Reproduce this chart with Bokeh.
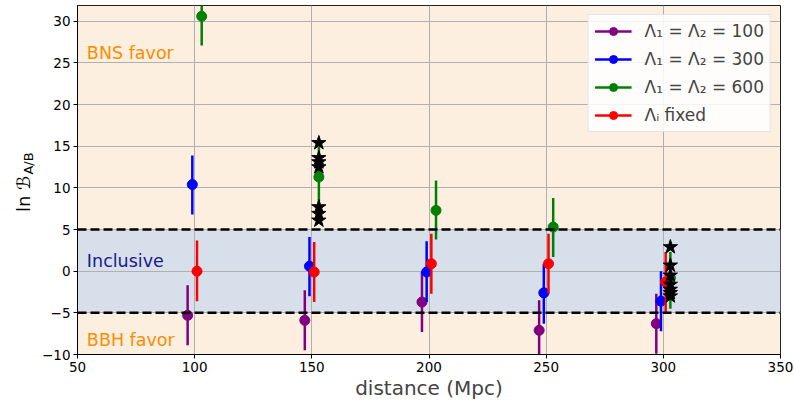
from bokeh.plotting import figure
from bokeh.layouts import row
from bokeh.models import (Label, Legend, LegendItem, BoxAnnotation, Span,
                          FixedTicker)
from bokeh.embed import file_html
from bokeh.resources import INLINE

# ---------------- data ----------------
x_ticks = [50, 100, 150, 200, 250, 300, 350]
y_ticks = [-10, -5, 0, 5, 10, 15, 20, 25, 30]

purple_x = [97, 147, 197, 247, 297]
purple_y = [-5.3, -5.9, -3.7, -7.1, -6.3]
purple_lo = [-8.9, -9.5, -7.3, -10.7, -9.9]
purple_hi = [-1.7, -2.3, -0.1, -3.5, -2.7]

blue_x = [99, 149, 199, 249, 299]
blue_y = [10.4, 0.6, -0.1, -2.6, -3.6]
blue_lo = [6.8, -3.0, -3.7, -6.3, -7.2]
blue_hi = [13.9, 4.1, 3.6, 0.9, 0.0]

green_x = [103, 153, 203, 253, 303]
green_y = [30.6, 11.3, 7.3, 5.3, -0.8]
green_lo = [27.1, 7.7, 3.8, 1.7, -4.5]
green_hi = [34.1, 14.9, 10.9, 8.8, 2.3]

red_x = [101, 151, 201, 251, 301]
red_y = [0.0, -0.1, 0.9, 0.9, -1.3]
red_lo = [-3.6, -3.7, -2.7, -2.7, -4.9]
red_hi = [3.7, 3.5, 4.5, 4.5, 2.3]

stars_x = [153, 153, 153, 153, 153, 153, 153,
           303, 303, 303, 303, 303, 303, 303]
stars_y = [15.4, 13.6, 13.1, 12.5, 7.7, 6.9, 6.1,
           2.9, 0.7, -0.5, -1.6, -2.2, -2.6, -3.0]

labels = ["Λ₁ = Λ₂ = 100", "Λ₁ = Λ₂ = 300", "Λ₁ = Λ₂ = 600", "Λᵢ fixed"]
colors = ["purple", "blue", "green", "red"]

band_lo, band_hi = -5, 5

# ---------------- figure ----------------
FONT = "DejaVu Sans"
LABEL_W = 36
p = figure(width=794 - LABEL_W, height=404, x_range=(50, 350), y_range=(-10, 31.9),
           output_backend="svg", toolbar_location=None,
           min_border_left=77 - LABEL_W, min_border_right=14, min_border_top=5,
           min_border_bottom=50)

p.background_fill_color = "#fdefe0"
p.border_fill_color = "white"
p.outline_line_color = "#222222"
p.outline_line_width = 1

p.add_layout(BoxAnnotation(bottom=band_lo, top=band_hi, fill_color="#d6dfea",
                           fill_alpha=1.0, line_alpha=0, level="image"))

p.grid.grid_line_color = "#b0b0b0"
p.grid.grid_line_width = 1
p.xaxis.ticker = FixedTicker(ticks=x_ticks)
p.yaxis.ticker = FixedTicker(ticks=y_ticks)
p.yaxis.major_label_overrides = {t: (("−" + str(-t)) if t < 0 else str(t)) for t in y_ticks}

for ax in p.axis:
    ax.axis_line_color = "black"
    ax.major_tick_line_color = "black"
    ax.major_tick_out = 4
    ax.major_tick_in = 0
    ax.minor_tick_line_color = None
    ax.major_label_text_font = FONT
    ax.major_label_text_font_size = "13.5px"
    ax.major_label_text_color = "black"
    ax.major_label_standoff = 3

p.xaxis.axis_label = "distance (Mpc)"
p.xaxis.axis_label_text_font = FONT
p.xaxis.axis_label_text_font_size = "20px"
p.xaxis.axis_label_text_font_style = "normal"
p.xaxis.axis_label_standoff = 1

for yv in (band_lo, band_hi):
    p.add_layout(Span(location=yv, dimension="width", line_color="black",
                      line_width=2.5, line_dash="9 4"))

series = [(purple_x, purple_y, purple_lo, purple_hi),
          (blue_x, blue_y, blue_lo, blue_hi),
          (green_x, green_y, green_lo, green_hi),
          (red_x, red_y, red_lo, red_hi)]

items = []
for (xs, ys, lo, hi), c, lab in zip(series, colors, labels):
    seg = p.segment(x0=xs, y0=lo, x1=xs, y1=hi, line_color=c, line_width=2.5)
    sc = p.scatter(xs, ys, size=10, color=c)
    items.append(LegendItem(label=lab, renderers=[seg, sc]))

p.scatter(stars_x, stars_y, marker="star", size=15, color="black")

# region texts
p.add_layout(Label(x=54, y=26.2, text="BNS favor", text_color="#ff8c00",
                   text_font=FONT, text_font_size="17.5px", text_baseline="middle"))
p.add_layout(Label(x=54, y=1.2, text="Inclusive", text_color="#1a1a8c",
                   text_font=FONT, text_font_size="17.5px", text_baseline="middle"))
p.add_layout(Label(x=54, y=-8.3, text="BBH favor", text_color="#ff8c00",
                   text_font=FONT, text_font_size="17.5px", text_baseline="middle"))

legend = Legend(items=items, location="top_right", margin=9,
                label_text_font=FONT, label_text_font_size="17px",
                glyph_width=37, glyph_height=20, label_height=20,
                spacing=8, padding=6, label_standoff=13,
                border_line_color="#cccccc", border_line_width=1,
                background_fill_color="white", background_fill_alpha=0.85)
p.add_layout(legend)

# ---------------- y axis label strip: ln B_{A/B} ----------------
q = figure(width=LABEL_W, height=404, x_range=(0, LABEL_W), y_range=p.y_range,
           output_backend="svg", toolbar_location=None,
           x_axis_location=None, y_axis_location=None,
           min_border_left=0, min_border_right=0, min_border_top=5,
           min_border_bottom=50)
q.grid.visible = False
q.outline_line_color = None
q.background_fill_color = "white"
q.border_fill_color = "white"
q.add_layout(Label(x=23.3, y=7.1, x_units="screen", y_units="data",
                   text="ln ℬ", angle=90, angle_units="deg",
                   text_align="left", text_baseline="alphabetic",
                   text_font=FONT, text_font_size="18px", text_color="black"))
q.add_layout(Label(x=27.5, y=11.6, x_units="screen", y_units="data",
                   text="A/B", angle=90, angle_units="deg",
                   text_align="left", text_baseline="alphabetic",
                   text_font=FONT, text_font_size="13px", text_color="black"))

layout = row(q, p, spacing=0)
open("out.html", "w").write(file_html(layout, INLINE))
